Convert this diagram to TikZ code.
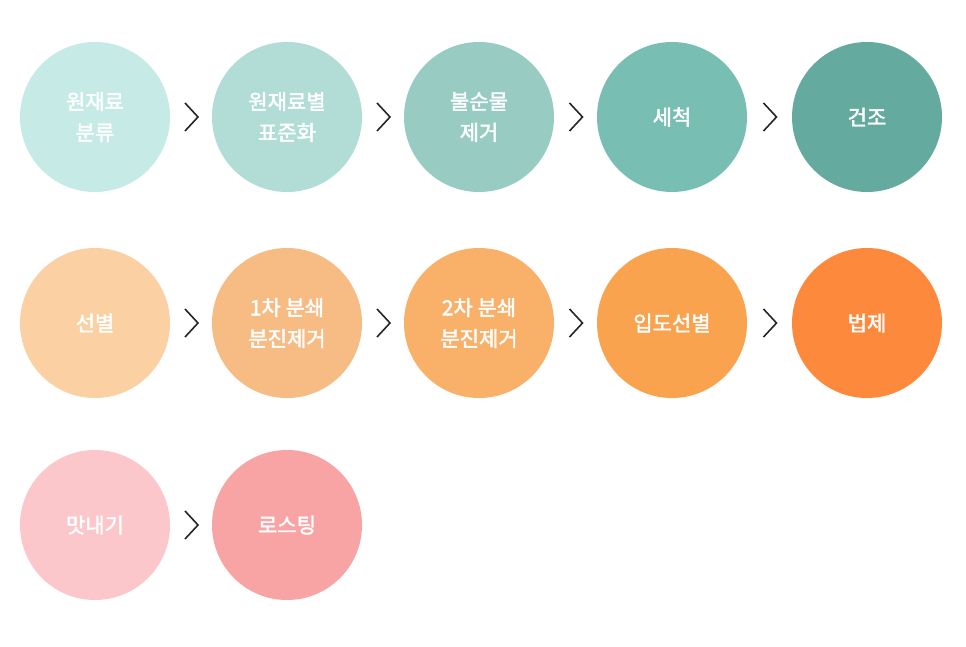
\documentclass[tikz,border=0pt]{standalone}
\usepackage{fontspec}
\newfontfamily\kr{Noto Sans CJK KR}[FakeBold=2]
\definecolor{a1}{HTML}{C6EBE6}\definecolor{a2}{HTML}{B1DDD6}\definecolor{a3}{HTML}{98CCC3}\definecolor{a4}{HTML}{78BEB3}\definecolor{a5}{HTML}{65AA9F}
\definecolor{b1}{HTML}{FBD0A3}\definecolor{b2}{HTML}{F7BC84}\definecolor{b3}{HTML}{F9B068}\definecolor{b4}{HTML}{FAA34F}\definecolor{b5}{HTML}{FD8A3C}
\definecolor{c1}{HTML}{FCC7CA}\definecolor{c2}{HTML}{F9A4A4}
\tikzset{stepc/.style={circle,minimum size=150pt,inner sep=0pt,text=white,align=center,font=\kr\fontsize{21pt}{31pt}\selectfont},
chev/.style={draw=black!85,line width=1.6pt}}
\newcommand{\chevat}[1]{\draw[chev] ($(#1)+(-6,-13)$) -- ($(#1)+(7,0)$) -- ($(#1)+(-6,13)$);}
\usetikzlibrary{calc}
\begin{document}
\begin{tikzpicture}[x=1pt,y=-1pt]
\useasboundingbox[fill=white] (0,0) rectangle (966,647);
\node[stepc,fill=a1] (n1) at (95,117) {원재료\\분류};
\node[stepc,fill=a2] (n2) at (287,117) {원재료별\\표준화};
\node[stepc,fill=a3] (n3) at (479,117) {불순물\\제거};
\node[stepc,fill=a4] (n4) at (672,117) {세척};
\node[stepc,fill=a5] (n5) at (867,117) {건조};
\node[stepc,fill=b1] (m1) at (95,323) {선별};
\node[stepc,fill=b2] (m2) at (287,323) {1차 분쇄\\분진제거};
\node[stepc,fill=b3] (m3) at (479,323) {2차 분쇄\\분진제거};
\node[stepc,fill=b4] (m4) at (672,323) {입도선별};
\node[stepc,fill=b5] (m5) at (867,323) {법제};
\node[stepc,fill=c1] (k1) at (95,525) {맛내기};
\node[stepc,fill=c2] (k2) at (287,525) {로스팅};
\foreach \a/\b in {n1/n2,n2/n3,n3/n4,n4/n5,m1/m2,m2/m3,m3/m4,m4/m5,k1/k2}{
  \coordinate (c) at ($(\a)!0.5!(\b)$);
  \draw[chev] ($(c)+(-6,-14)$) -- ($(c)+(7,0)$) -- ($(c)+(-6,14)$);
}
\end{tikzpicture}
\end{document}
